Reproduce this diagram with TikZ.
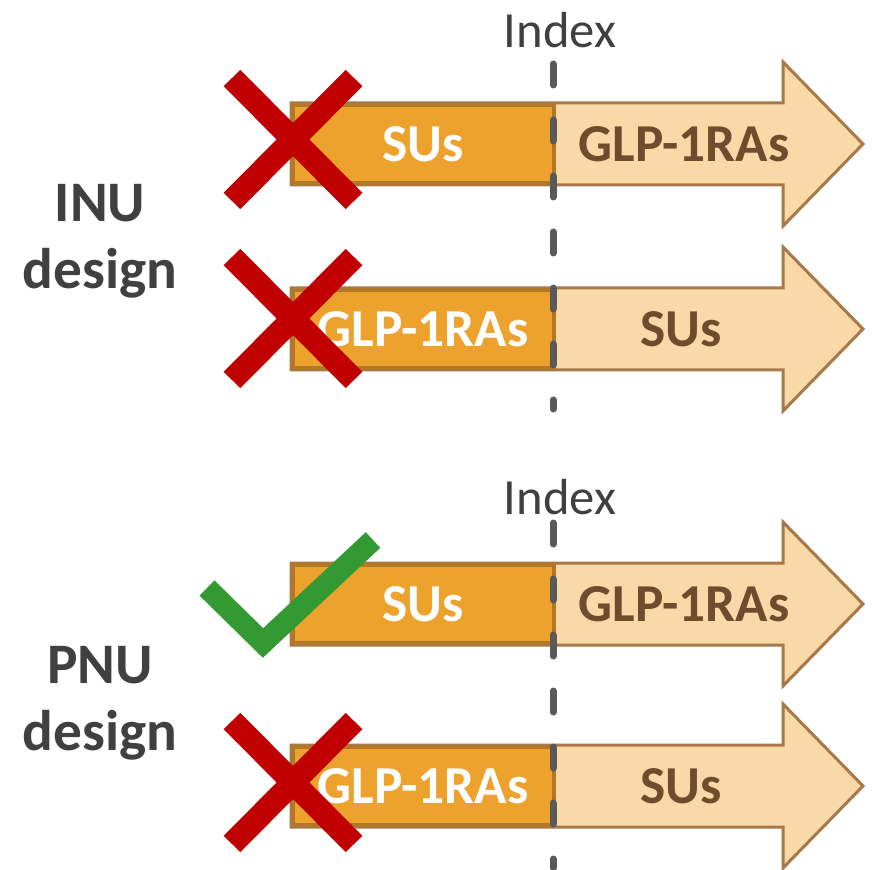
\documentclass[tikz,border=0pt]{standalone}
\usepackage{fontspec}
\setmainfont{Carlito}
\usetikzlibrary{positioning}
\definecolor{orangefill}{RGB}{237,162,46}
\definecolor{orangeedge}{RGB}{176,120,40}
\definecolor{lightfill}{RGB}{248,217,168}
\definecolor{lightedge}{RGB}{168,120,72}
\definecolor{browntext}{RGB}{110,76,44}
\definecolor{darkgray}{RGB}{64,64,64}
\definecolor{dashgray}{RGB}{89,89,89}
\definecolor{crossred}{RGB}{192,0,0}
\definecolor{tickgreen}{RGB}{51,153,51}
\tikzstyle{shaft} = [draw=lightedge,fill=lightfill,line width=2.25pt,line join=miter]
\tikzstyle{drugbox} = [draw=orangeedge,fill=orangefill,line width=2.5pt]
\tikzstyle{indexline} = [draw=dashgray,line width=5.25pt,line cap=round,dash pattern=on 15.75pt off 26.25pt]
\tikzstyle{crossmark} = [draw=crossred,line width=17.5pt]
\tikzstyle{checkmark} = [draw=tickgreen,line width=16pt,line join=miter]
\tikzstyle{inlabel} = [text=white,font=\fontsize{40}{48}\selectfont\bfseries,inner sep=0.75pt]
\tikzstyle{outlabel} = [text=browntext,font=\fontsize{40}{48}\selectfont\bfseries,inner sep=0.75pt]
\tikzstyle{design} = [text=darkgray,font=\fontsize{43}{50}\selectfont\bfseries,align=center,inner sep=0.75pt]
\tikzstyle{index} = [text=darkgray,font=\fontsize{38}{46}\selectfont,inner sep=0.75pt]

\begin{document}
\begin{tikzpicture}[x=0.75pt,y=0.75pt,yscale=-1,xscale=1]
\useasboundingbox (0,0) rectangle (876,870);

%Shape: Arrow [row 1]
\draw [shaft] (291,103) -- (783,103) -- (783,62) -- (863,144) -- (783,226) -- (783,185) -- (291,185) -- cycle ;
\draw [drugbox] (293,105) rectangle (554,183) ;
%Shape: Arrow [row 2]
\draw [shaft] (291,288) -- (783,288) -- (783,247) -- (863,329) -- (783,411) -- (783,370) -- (291,370) -- cycle ;
\draw [drugbox] (293,290) rectangle (554,368) ;
%Shape: Arrow [row 3]
\draw [shaft] (291,563) -- (783,563) -- (783,522) -- (863,604) -- (783,686) -- (783,645) -- (291,645) -- cycle ;
\draw [drugbox] (293,565) rectangle (554,643) ;
%Shape: Arrow [row 4]
\draw [shaft] (291,745) -- (783,745) -- (783,704) -- (863,786) -- (783,868) -- (783,827) -- (291,827) -- cycle ;
\draw [drugbox] (293,747) rectangle (554,825) ;

% Text Node
\node [inlabel] (su1) at (423,144) {SUs};
\node [outlabel] (glp1) at (684,144) {GLP-1RAs};
\node [inlabel] (glp2) at (423,329) {GLP-1RAs};
\node [outlabel] (su2) at (681,329) {SUs};
\node [inlabel] (su3) at (423,604) {SUs};
\node [outlabel] (glp3) at (684,604) {GLP-1RAs};
\node [inlabel] (glp4) at (423,786) {GLP-1RAs};
\node [outlabel] (su4) at (681,786) {SUs};

% Text Node
\node [index] (index1) at (560,30) {Index};
\node [index] (index2) at (560,497) {Index};
\node [design] (inu) at (100,241) {INU\\design};
\node [design] (pnu) at (100,703) {PNU\\design};

%Straight Lines [index cut]
\coordinate (top1) at (553,64);
\coordinate (end1) at (553,409);
\draw [indexline] (top1) -- (end1) ;
\coordinate (top2) at (553,523);
\coordinate (end2) at (553,868);
\draw [indexline] (top2) -- (end2) ;

%Straight Lines [marks]
\draw [crossmark] (232,78) -- (354,201) (354,78) -- (232,201) ;
\draw [crossmark] (232,257) -- (354,380) (354,257) -- (232,380) ;
\draw [crossmark] (232,721) -- (354,844) (354,721) -- (232,844) ;
\draw [checkmark] (207,588) -- (263,643) -- (373,540) ;

\end{tikzpicture}
\end{document}
